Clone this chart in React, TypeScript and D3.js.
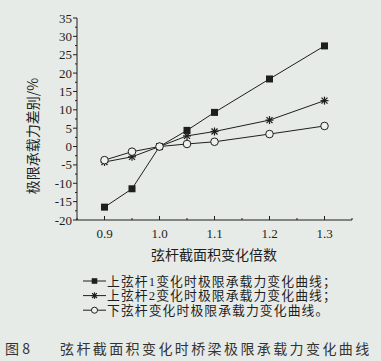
import React from "react";
import * as d3 from "d3";

const xValues = [0.9, 0.95, 1.0, 1.05, 1.1, 1.2, 1.3];
const series1 = [-16.5, -11.5, 0, 4.4, 9.3, 18.4, 27.4];
const series2 = [-4.2, -2.8, 0, 2.9, 4.1, 7.2, 12.5];
const series3 = [-3.7, -1.4, 0, 0.7, 1.3, 3.4, 5.6];
const xTicks = [0.9, 1.0, 1.1, 1.2, 1.3];
const yTicks = [-20, -15, -10, -5, 0, 5, 10, 15, 20, 25, 30, 35];
const legendLabels = [
  "上弦杆1变化时极限承载力变化曲线；",
  "上弦杆2变化时极限承载力变化曲线；",
  "下弦杆变化时极限承载力变化曲线。",
];
const xTitle = "弦杆截面积变化倍数";
const yTitle = "极限承载力差别/%";
const caption = "弦杆截面积变化时桥梁极限承载力变化曲线";

const FONT = "'Liberation Serif', 'Noto Sans CJK SC', serif";
const CJK = "'Noto Sans CJK SC', sans-serif";
const INK = "#1e1e1e";

export default function App() {
  const W = 381, H = 361;
  const x = d3.scaleLinear().domain([0.85, 1.35]).range([77, 352]);
  const y = d3.scaleLinear().domain([-20, 35]).range([220, 18]);
  const line = d3.line<number>().x((_, i) => x(xValues[i])).y((d) => y(d));
  const xMinor = d3.range(0.85, 1.351, 0.05).filter((v) => !xTicks.some((t) => Math.abs(t - v) < 1e-6));
  const yMinor = d3.range(-17.5, 35, 5);

  const marker = (k: number, cx: number, cy: number, key: string, s = 1) => {
    if (k === 0) return <rect key={key} x={cx - 3.5 * s} y={cy - 3.5 * s} width={7 * s} height={7 * s} fill={INK} />;
    if (k === 1)
      return (
        <g key={key} stroke={INK} strokeWidth={1.2}>
          <line x1={cx - 4 * s} y1={cy} x2={cx + 4 * s} y2={cy} />
          <line x1={cx - 3 * s} y1={cy - 3 * s} x2={cx + 3 * s} y2={cy + 3 * s} />
          <line x1={cx - 3 * s} y1={cy + 3 * s} x2={cx + 3 * s} y2={cy - 3 * s} />
          <line x1={cx} y1={cy - 4 * s} x2={cx} y2={cy + 4 * s} />
        </g>
      );
    return <circle key={key} cx={cx} cy={cy} r={3.8 * s} fill="#eef1ee" stroke={INK} strokeWidth={1} />;
  };

  const all = [series1, series2, series3];
  const legendY = (k: number) => 281 + k * 14.6;

  return (
    <svg width={W} height={H} style={{ position: "absolute", left: 0, top: 0, background: "#e7ebe7" }}>
      <rect x={0} y={0} width={W} height={H} fill="#e7ebe7" />
      {/* axes */}
      <line x1={77} y1={y(35)} x2={77} y2={220} stroke={INK} strokeWidth={1} />
      <line x1={77} y1={220} x2={352} y2={220} stroke={INK} strokeWidth={1} />
      {yTicks.map((t) => (
        <g key={"yt" + t}>
          <line x1={73} x2={77} y1={y(t)} y2={y(t)} stroke={INK} />
          <text x={76} y={y(t)} dy="0.35em" textAnchor="end" fontFamily={FONT} fontSize={13} fill={INK} dx={-4}>
            {t}
          </text>
        </g>
      ))}
      {yMinor.map((t) => (
        <line key={"ym" + t} x1={75} x2={77} y1={y(t)} y2={y(t)} stroke={INK} />
      ))}
      {xTicks.map((t) => (
        <g key={"xt" + t}>
          <line x1={x(t)} x2={x(t)} y1={220} y2={216} stroke={INK} />
          <text x={x(t)} y={238} textAnchor="middle" fontFamily={FONT} fontSize={13} fill={INK}>
            {t.toFixed(1)}
          </text>
        </g>
      ))}
      {xMinor.map((t) => (
        <line key={"xm" + t} x1={x(t)} x2={x(t)} y1={220} y2={218} stroke={INK} />
      ))}
      {/* series */}
      {all.map((s, k) => (
        <path key={"p" + k} d={line(s) || ""} fill="none" stroke={INK} strokeWidth={1} />
      ))}
      {all.map((s, k) => s.map((v, i) => marker(k, x(xValues[i]), y(v), `m${k}-${i}`)))}
      {/* titles */}
      <text x={214} y={260} textAnchor="middle" fontFamily={CJK} fontSize={14} fill={INK}>
        {xTitle}
      </text>
      <text
        transform={`translate(38,136) rotate(-90)`}
        textAnchor="middle"
        fontFamily={CJK}
        fontSize={14}
        fill={INK}
      >
        {yTitle}
      </text>
      {/* legend */}
      {legendLabels.map((lab, k) => (
        <g key={"lg" + k}>
          <line x1={83} x2={106} y1={legendY(k)} y2={legendY(k)} stroke={INK} />
          {marker(k, 94.5, legendY(k), "lm" + k, 0.8)}
          <text x={107} y={legendY(k)} dy="0.36em" fontFamily={FONT} fontSize={12.8} fill={INK} letterSpacing={1.1}>
            {lab}
          </text>
        </g>
      ))}
      {/* caption */}
      <text x={5} y={349} dy="0.36em" fontFamily={CJK} fontSize={14} fill="#333">
        图 8
      </text>
      <text x={60} y={349} dy="0.36em" fontFamily={CJK} fontSize={14} fill="#333" letterSpacing={2.4}>
        {caption}
      </text>
    </svg>
  );
}
